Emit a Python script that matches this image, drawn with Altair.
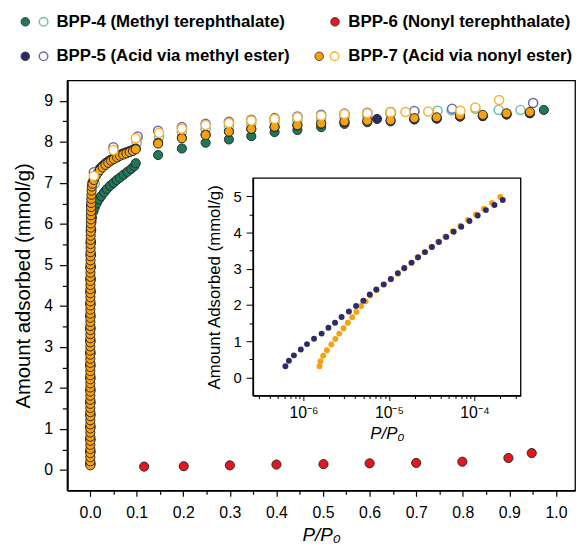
import altair as alt
import pandas as pd

FONT = "Liberation Sans"

# ---------------- main isotherms (P/P0, mmol/g) ----------------
# BPP-4 (Methyl terephthalate) adsorption (filled) / desorption (open)
bpp4_ads_p = [0.001, 0.001, 0.001, 0.001, 0.001, 0.001, 0.001, 0.001, 0.001, 0.001,
              0.001, 0.001, 0.001, 0.001, 0.0015, 0.0015, 0.0015, 0.002, 0.002, 0.0025, 0.003,
              0.004, 0.007, 0.01, 0.014, 0.019, 0.024, 0.03, 0.036, 0.043, 0.05, 0.057, 0.064,
              0.072, 0.08, 0.088, 0.095,
              0.098, 0.146, 0.197, 0.248, 0.298, 0.346, 0.396, 0.445, 0.496, 0.546, 0.595,
              0.645, 0.696, 0.744, 0.794, 0.843, 0.894, 0.944, 0.974]
bpp4_ads_v = [0.15, 0.45, 0.75, 1.05, 1.35, 1.65, 1.95, 2.25, 2.55, 2.85,
              3.15, 3.45, 3.75, 4.05, 4.35, 4.65, 4.95, 5.25, 5.55, 5.85, 6.05,
              6.15, 6.3, 6.4, 6.5, 6.6, 6.68, 6.77, 6.85, 6.93, 7.0, 7.07, 7.13,
              7.2, 7.27, 7.34, 7.41,
              7.48, 7.68, 7.84, 7.98, 8.06, 8.14, 8.24, 8.29, 8.36, 8.44, 8.48,
              8.5, 8.55, 8.57, 8.62, 8.63, 8.67, 8.7, 8.78]
bpp4_des_p = [0.01, 0.052, 0.1, 0.148, 0.197, 0.248, 0.298, 0.346, 0.396, 0.445, 0.496,
              0.546, 0.595, 0.645, 0.696, 0.746, 0.776, 0.827, 0.877, 0.924]
bpp4_des_v = [6.98, 7.62, 7.98, 8.13, 8.24, 8.32, 8.38, 8.44, 8.48, 8.52, 8.56,
              8.6, 8.63, 8.67, 8.74, 8.76, 8.77, 8.81, 8.78, 8.78]

# BPP-5 (Acid via methyl ester)
bpp5_ads_p = [0.0003, 0.0003, 0.0003, 0.0003, 0.0003, 0.0003, 0.0003, 0.0003, 0.0003, 0.0003,
              0.0003, 0.0003, 0.0003, 0.0003, 0.0004, 0.0005, 0.0006, 0.0008, 0.001, 0.0015, 0.002,
              0.005, 0.008, 0.012, 0.016, 0.021, 0.027, 0.033, 0.039, 0.045, 0.051, 0.058,
              0.064, 0.071, 0.078, 0.085, 0.092,
              0.098, 0.146, 0.197, 0.248, 0.298, 0.346, 0.396, 0.445, 0.496, 0.546, 0.616,
              0.696, 0.744, 0.794, 0.843, 0.894, 0.944]
bpp5_ads_v = [0.15, 0.45, 0.75, 1.05, 1.35, 1.65, 1.95, 2.25, 2.55, 2.85,
              3.15, 3.45, 3.75, 4.05, 4.35, 4.65, 4.95, 5.25, 5.55, 5.85, 6.45,
              7.01, 7.11, 7.2, 7.28, 7.35, 7.42, 7.48, 7.53, 7.57, 7.61, 7.65,
              7.69, 7.72, 7.75, 7.78, 7.81,
              7.84, 7.98, 8.1, 8.18, 8.25, 8.31, 8.36, 8.4, 8.44, 8.48, 8.56,
              8.55, 8.57, 8.62, 8.63, 8.67, 8.7]
bpp5_des_p = [0.008, 0.05, 0.102, 0.146, 0.197, 0.248, 0.298, 0.346, 0.396, 0.445, 0.496,
              0.546, 0.595, 0.645, 0.696, 0.777, 0.951]
bpp5_des_v = [7.26, 7.87, 8.13, 8.27, 8.36, 8.44, 8.49, 8.54, 8.58, 8.62, 8.66,
              8.69, 8.71, 8.73, 8.75, 8.81, 8.95]

# BPP-6 (Nonyl terephthalate)
bpp6_ads_p = [0.116, 0.201, 0.3, 0.4, 0.501, 0.6, 0.7, 0.799, 0.898, 0.948]
bpp6_ads_v = [0.08, 0.09, 0.11, 0.13, 0.14, 0.16, 0.17, 0.2, 0.29, 0.41]

# BPP-7 (Acid via nonyl ester)
bpp7_ads_p = [0.0005, 0.0005, 0.0005, 0.0005, 0.0005, 0.0005, 0.0005, 0.0005, 0.0005, 0.0005,
              0.0005, 0.0005, 0.0005, 0.0005, 0.0005, 0.0005, 0.0005, 0.0005, 0.0005, 0.0005,
              0.0005, 0.0005, 0.0005, 0.0005, 0.0005, 0.0005, 0.0005, 0.0005, 0.0005, 0.0005,
              0.0006, 0.0006, 0.0006, 0.0006, 0.0006, 0.0006, 0.0006, 0.0006, 0.0006, 0.0006,
              0.0007, 0.0007, 0.0007, 0.0007, 0.0007, 0.0008, 0.0008, 0.0008, 0.0008, 0.0009,
              0.0009, 0.001, 0.001, 0.0011, 0.0011, 0.0012, 0.0013, 0.0014, 0.0015, 0.0016,
              0.0017, 0.0018, 0.002, 0.0022, 0.0024, 0.0026, 0.0029, 0.0032, 0.0036,
              0.005, 0.008, 0.012, 0.016, 0.021, 0.027, 0.033, 0.039, 0.045, 0.051, 0.058,
              0.064, 0.071, 0.078, 0.085, 0.092,
              0.098, 0.146, 0.197, 0.248, 0.298, 0.346, 0.396, 0.445, 0.496, 0.546, 0.595,
              0.645, 0.696, 0.744, 0.794, 0.843, 0.894, 0.944]
bpp7_ads_v = [0.11, 0.21, 0.31, 0.41, 0.51, 0.61, 0.71, 0.81, 0.91, 1.01,
              1.11, 1.21, 1.31, 1.41, 1.51, 1.61, 1.71, 1.81, 1.91, 2.01,
              2.11, 2.21, 2.31, 2.41, 2.51, 2.61, 2.71, 2.81, 2.91, 3.01,
              3.11, 3.21, 3.31, 3.41, 3.51, 3.61, 3.71, 3.81, 3.91, 4.01,
              4.11, 4.21, 4.31, 4.41, 4.51, 4.61, 4.71, 4.81, 4.91, 5.01,
              5.11, 5.21, 5.31, 5.41, 5.51, 5.61, 5.71, 5.81, 5.91, 6.01,
              6.11, 6.21, 6.31, 6.41, 6.51, 6.61, 6.71, 6.81, 6.91,
              6.98, 7.07, 7.16, 7.24, 7.31, 7.38, 7.44, 7.49, 7.54, 7.58, 7.62,
              7.66, 7.69, 7.72, 7.75, 7.78,
              7.82, 7.96, 8.09, 8.17, 8.25, 8.32, 8.37, 8.41, 8.45, 8.5, 8.52,
              8.53, 8.58, 8.6, 8.65, 8.66, 8.7, 8.73]
bpp7_des_p = [0.008, 0.05, 0.098, 0.148, 0.197, 0.248, 0.298, 0.346, 0.396, 0.445, 0.496,
              0.546, 0.595, 0.645, 0.677, 0.726, 0.795, 0.827, 0.878]
bpp7_des_v = [7.17, 7.8, 8.09, 8.22, 8.32, 8.41, 8.46, 8.52, 8.56, 8.6, 8.64,
              8.68, 8.7, 8.72, 8.73, 8.74, 8.76, 8.84, 9.02]

# ---------------- inset: low-pressure region (log P/P0) ----------------
inset5_p = [6.15e-7, 6.76e-7, 7.73e-7, 9.31e-7, 1.10e-6, 1.33e-6, 1.63e-6, 1.96e-6,
            2.34e-6, 2.79e-6, 3.40e-6, 4.12e-6, 5.01e-6, 5.96e-6, 7.11e-6, 8.67e-6,
            1.05e-5, 1.27e-5, 1.51e-5, 1.84e-5, 2.19e-5, 2.64e-5, 3.18e-5, 3.84e-5,
            4.67e-5, 5.71e-5, 7.0e-5, 8.73e-5, 1.09e-4, 1.36e-4, 1.71e-4, 2.14e-4]
inset5_v = [0.31, 0.46, 0.61, 0.77, 0.92, 1.07, 1.21, 1.37, 1.51, 1.67,
            1.82, 1.97, 2.12, 2.29, 2.43, 2.57, 2.72, 2.88, 3.02, 3.17,
            3.32, 3.46, 3.60, 3.74, 3.88, 4.02, 4.16, 4.32, 4.47, 4.62, 4.76, 4.90]
inset7_p = [1.54e-6, 1.58e-6, 1.70e-6, 1.88e-6, 2.12e-6, 2.36e-6, 2.62e-6, 2.94e-6,
            3.30e-6, 3.71e-6, 4.16e-6, 4.71e-6, 5.33e-6, 6.03e-6, 7.16e-6, 8.71e-6,
            1.06e-5, 1.27e-5, 1.51e-5, 1.82e-5, 2.16e-5, 2.60e-5, 3.13e-5, 3.76e-5,
            4.57e-5, 5.56e-5, 6.84e-5, 8.41e-5, 1.04e-4, 1.29e-4, 1.60e-4, 2.0e-4]
inset7_v = [0.31, 0.45, 0.60, 0.75, 0.91, 1.06, 1.21, 1.36, 1.51, 1.66,
            1.81, 1.97, 2.10, 2.26, 2.41, 2.56, 2.71, 2.86, 3.01, 3.16,
            3.31, 3.46, 3.60, 3.75, 3.89, 4.04, 4.19, 4.35, 4.50, 4.66, 4.82, 4.98]

# ---------------- ticks / domains ----------------
main_x_ticks = [0.0, 0.05, 0.1, 0.15, 0.2, 0.25, 0.3, 0.35, 0.4, 0.45, 0.5,
                0.55, 0.6, 0.65, 0.7, 0.75, 0.8, 0.85, 0.9, 0.95, 1.0]
main_y_ticks = [0, 0.5, 1, 1.5, 2, 2.5, 3, 3.5, 4, 4.5, 5, 5.5, 6, 6.5, 7, 7.5, 8, 8.5, 9]
inset_x_ticks = [3e-7, 4e-7, 5e-7, 6e-7, 7e-7, 8e-7, 9e-7,
                 1e-6, 2e-6, 3e-6, 4e-6, 5e-6, 6e-6, 7e-6, 8e-6, 9e-6,
                 1e-5, 2e-5, 3e-5, 4e-5, 5e-5, 6e-5, 7e-5, 8e-5, 9e-5,
                 1e-4, 2e-4, 3e-4]
inset_y_ticks = [0, 0.5, 1, 1.5, 2, 2.5, 3, 3.5, 4, 4.5, 5]
main_x_domain = [-0.049, 1.041]
main_y_domain = [-0.5, 9.5]
inset_x_domain = [2.57e-7, 3.47e-4]
inset_y_domain = [-0.5, 5.5]

legend_labels = ["BPP-4 (Methyl terephthalate)", "BPP-6 (Nonyl terephthalate)",
                 "BPP-5 (Acid via methyl ester)", "BPP-7 (Acid via nonyl ester)"]

# ---------------- styles ----------------
GREEN, GREEN_O = "#1c7a5a", "#6cc0a4"
NAVY, NAVY_O = "#2d2c6b", "#6b6bb0"
RED = "#e8151f"
ORANGE, ORANGE_O = "#f7a10c", "#f9b233"
EDGE = "#2a2a2a"

def cond(test, a, b):
    return {"condition": {"test": test, "value": a}, "value": b}

x10 = "abs(datum.value*10 - round(datum.value*10)) < 0.001"
yint = "datum.value % 1 == 0"
decade = "abs(log(datum.value)/LN10 - round(log(datum.value)/LN10)) < 0.01"

main_x_axis = alt.Axis(values=main_x_ticks, labelExpr=f"{x10} ? format(datum.value, '.1f') : ''",
                       tickSize=cond(x10, 6, 4), tickWidth=1.2, domainWidth=2,
                       labelFontSize=16, labelPadding=8, labelFlush=False, labelOverlap=False,
                       title="P/P₀", titleFontSize=19, titleFontStyle="italic", titleFontWeight="normal",
                       titleBaseline="alphabetic", titleY=51)
main_y_axis = alt.Axis(values=main_y_ticks, labelExpr=f"{yint} ? format(datum.value, 'd') : ''",
                       tickSize=cond(yint, 8, 5), tickWidth=1.2, domainWidth=2,
                       labelFontSize=16, labelPadding=7, labelFlush=False, labelOverlap=False,
                       title="Amount adsorbed (mmol/g)", titleFontSize=20.5, titleFontWeight="normal",
                       titleBaseline="alphabetic", titleX=-38.5, titleY=207.5, titleAngle=270)

inset_x_axis = alt.Axis(orient="bottom", offset=-96, values=inset_x_ticks,
                        labelExpr=("datum.value > 0.9e-6 && datum.value < 1.1e-6 ? '10⁻⁶' : "
                                   "datum.value > 0.9e-5 && datum.value < 1.1e-5 ? '10⁻⁵' : "
                                   "datum.value > 0.9e-4 && datum.value < 1.1e-4 ? '10⁻⁴' : ''"),
                        tickSize=cond(decade, 5, 3), tickWidth=1, domainWidth=1.3,
                        labelFontSize=16, labelPadding=4, labelFlush=False, labelOverlap=False,
                        title="P/P₀", titleFontSize=17, titleFontStyle="italic", titleFontWeight="normal",
                        titleBaseline="alphabetic", titleY=43)
inset_y_axis = alt.Axis(orient="left", offset=-188, values=inset_y_ticks,
                        labelExpr=f"{yint} ? format(datum.value, 'd') : ''",
                        tickSize=cond(yint, 7, 4), tickWidth=1, domainWidth=1.3,
                        labelFontSize=15, labelPadding=5, labelFlush=False, labelOverlap=False,
                        title="Amount Adsorbed (mmol/g)", titleFontSize=17, titleFontWeight="normal",
                        titleBaseline="alphabetic", titleX=-33.7, titleY=209, titleAngle=270)

X_MAIN = alt.X("p:Q", scale=alt.Scale(domain=main_x_domain, nice=False, zero=False), axis=main_x_axis)
Y_MAIN = alt.Y("v:Q", scale=alt.Scale(domain=main_y_domain, nice=False, zero=False), axis=main_y_axis)
X_INSET = alt.X("p:Q", scale=alt.Scale(type="log", domain=inset_x_domain, range=[188, 459], nice=False),
                axis=inset_x_axis)
Y_INSET = alt.Y("v:Q", scale=alt.Scale(domain=inset_y_domain, range=[319, 99], nice=False, zero=False),
                axis=inset_y_axis)


def frame(p, v):
    return pd.DataFrame({"p": p, "v": v})


def filled(p, v, color):
    return alt.Chart(frame(p, v)).mark_circle(size=85, fill=color, stroke=EDGE, strokeWidth=1,
                                              opacity=1).encode(x=X_MAIN, y=Y_MAIN)


def hollow(p, v, color):
    return alt.Chart(frame(p, v)).mark_circle(size=85, fill="white", stroke=color, strokeWidth=1.5,
                                              opacity=1).encode(x=X_MAIN, y=Y_MAIN)


one = pd.DataFrame({"k": [0]})


def ldot(x, y, fill, stroke, sw):
    return alt.Chart(one).mark_circle(size=75, fill=fill, stroke=stroke, strokeWidth=sw, opacity=1).encode(
        x=alt.value(x), y=alt.value(y))


def ltext(x, y, label):
    return alt.Chart(one).mark_text(align="left", baseline="middle", font=FONT, fontSize=17,
                                    fontWeight="bold", color="black").encode(
        x=alt.value(x), y=alt.value(y), text=alt.value(label))


legend = [
    ldot(-42.5, -59.3, GREEN, EDGE, 0.8), ldot(-24, -59.3, "white", GREEN_O, 1.4), ltext(-11, -59.3, legend_labels[0]),
    ldot(271, -59.3, RED, EDGE, 0.8), ltext(284.5, -59.3, legend_labels[1]),
    ldot(-42.5, -24.4, NAVY, EDGE, 0.8), ldot(-24, -24.4, "white", NAVY_O, 1.4), ltext(-11, -24.4, legend_labels[2]),
    ldot(255, -24.4, ORANGE, EDGE, 0.8), ldot(270.6, -24.4, "white", ORANGE_O, 1.4), ltext(284.5, -24.4, legend_labels[3]),
]

main = alt.layer(
    filled(bpp4_ads_p, bpp4_ads_v, GREEN),
    hollow(bpp4_des_p, bpp4_des_v, GREEN_O),
    filled(bpp5_ads_p, bpp5_ads_v, NAVY),
    hollow(bpp5_des_p, bpp5_des_v, NAVY_O),
    filled(bpp7_ads_p, bpp7_ads_v, ORANGE),
    hollow(bpp7_des_p, bpp7_des_v, ORANGE_O),
    filled(bpp6_ads_p, bpp6_ads_v, RED),
    *legend,
)

inset_box = alt.Chart(pd.DataFrame({"p": [inset_x_domain[0]], "p2": [inset_x_domain[1]],
                                    "v": [inset_y_domain[0]], "v2": [inset_y_domain[1]]})).mark_rect(
    fill="white", fillOpacity=0, stroke="black", strokeWidth=1.3).encode(
    x=X_INSET, x2="p2:Q", y=Y_INSET, y2="v2:Q")

inset = alt.layer(
    inset_box,
    alt.Chart(frame(inset7_p, inset7_v)).mark_circle(size=36, color=ORANGE, opacity=1).encode(x=X_INSET, y=Y_INSET),
    alt.Chart(frame(inset5_p, inset5_v)).mark_circle(size=36, color=NAVY, opacity=1).encode(x=X_INSET, y=Y_INSET),
)

chart = alt.layer(main, inset).resolve_scale(x="independent", y="independent").properties(
    width=514, height=415,
    padding={"left": 60, "top": 70, "right": 4, "bottom": 54},
    autosize=alt.AutoSizeParams(type="none"),
).configure_view(stroke="black", strokeWidth=1.3).configure_axis(
    grid=False, domainColor="black", tickColor="black", labelColor="black", titleColor="black",
    labelFont=FONT, titleFont=FONT,
)

chart.save("out.html", embed_options={"renderer": "svg", "actions": False})
